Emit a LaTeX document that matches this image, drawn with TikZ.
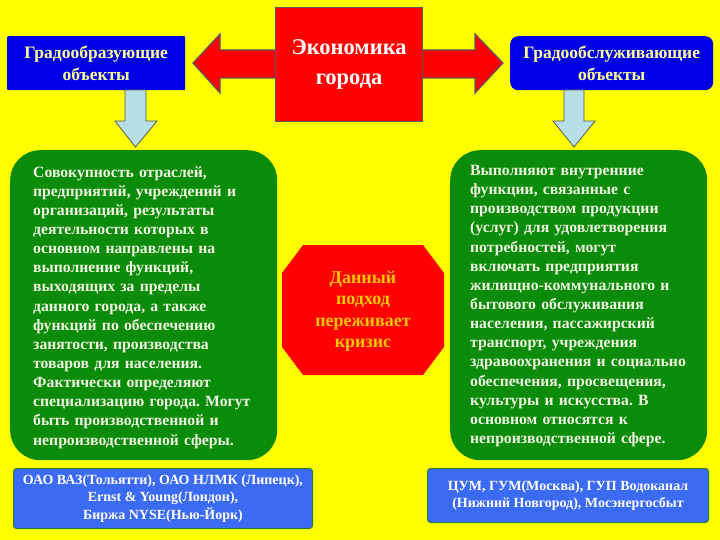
\documentclass[tikz,border=0pt]{standalone}
\usepackage{fontspec}
\setmainfont{Liberation Serif}
\frenchspacing
\definecolor{bgyel}{HTML}{FFFF00}
\definecolor{redfill}{HTML}{FF0000}
\definecolor{edgegray}{HTML}{5A5A5A}
\definecolor{topblue}{HTML}{0000E6}
\definecolor{paleyel}{HTML}{FFFF99}
\definecolor{greenbox}{HTML}{0A8C0A}
\definecolor{greentext}{HTML}{F0F4E0}
\definecolor{lowblue}{HTML}{3B6BF5}
\definecolor{lowedge}{HTML}{2E7D32}
\definecolor{downfill}{HTML}{B8DEE6}
\definecolor{octtext}{HTML}{F5C400}
\tikzset{
  blockarrow/.style={fill=redfill,draw=edgegray,line width=1.2pt,line join=miter},
  downarrow/.style={fill=downfill,draw=edgegray,line width=0.8pt},
  topbox/.style={fill=topblue,draw=none,text=paleyel,font=\bfseries\fontsize{17.5}{22}\selectfont,align=center,inner sep=0pt},
  greenpanel/.style={fill=greenbox,draw=none,rounded corners=30pt,anchor=north west,inner sep=0pt},
  greentxt/.style={text=greentext,font=\bfseries\fontsize{15.7}{19.15}\selectfont,align=left,anchor=north west,inner sep=0pt,text width=250pt},
  lowbox/.style={fill=lowblue,draw=lowedge,line width=1pt,rounded corners=3pt,text=white,font=\bfseries\fontsize{14}{17.5}\selectfont,align=center,inner sep=0pt,anchor=north west}
}
\begin{document}
\begin{tikzpicture}[x=1pt,y=-1pt]
\useasboundingbox[fill=bgyel] (0,0) rectangle (720,540);
% double block arrow behind central box
\draw[blockarrow] (193,63) -- (220,34) -- (220,50) -- (475,50) -- (475,34) -- (503,63) -- (475,93) -- (475,78) -- (220,78) -- (220,93) -- cycle;
% central box
\node[fill=redfill,draw=edgegray,line width=1.2pt,minimum width=147pt,minimum height=114pt,anchor=north west,text=white,font=\bfseries\fontsize{22.5}{30}\selectfont,align=center,inner sep=0pt] (eco) at (275,7) {Экономика\\города};
% top blue boxes
\node[topbox,minimum width=178pt,minimum height=54pt,anchor=north west,rounded corners=1pt] (lb) at (7,36) {Градообразующие\\объекты};
\node[topbox,minimum width=203pt,minimum height=54pt,anchor=north west,rounded corners=8pt] (rb) at (510,36) {Градообслуживающие\\объекты};
% down arrows
\draw[downarrow] (125,90) -- (146,90) -- (146,121) -- (157,121) -- (135.5,147) -- (115,121) -- (125,121) -- cycle;
\draw[downarrow] (564,90) -- (584,90) -- (584,121) -- (595,121) -- (574,147) -- (553,121) -- (564,121) -- cycle;
% green panels
\node[greenpanel,minimum width=267pt,minimum height=310pt] (lg) at (10,150) {};
\node[greentxt] (lgt) at (33,166) {Совокупность отраслей,\\
предприятий, учреждений и\\
организаций, результаты\\
деятельности которых в\\
основном направлены на\\
выполнение функций,\\
выходящих за пределы\\
данного города, а также\\
функций по обеспечению\\
занятости, производства\\
товаров для населения.\\
Фактически определяют\\
специализацию города. Могут\\
быть производственной и\\
непроизводственной сферы.};
\node[greenpanel,minimum width=257pt,minimum height=310pt] (rg) at (450,150) {};
\node[greentxt] (rgt) at (470,165) {Выполняют внутренние\\
функции, связанные с\\
производством продукции\\
(услуг) для удовлетворения\\
потребностей, могут\\
включать предприятия\\
жилищно-коммунального и\\
бытового обслуживания\\
населения, пассажирский\\
транспорт, учреждения\\
здравоохранения и социально\\
обеспечения, просвещения,\\
культуры и искусства. В\\
основном относятся к\\
непроизводственной сфере.};
% octagon
\fill[redfill] (303,245) -- (423,245) -- (444,273) -- (444,347) -- (423,375) -- (303,375) -- (282,347) -- (282,273) -- cycle;
\node[text=octtext,font=\bfseries\fontsize{18}{21.5}\selectfont,align=center,inner sep=0pt] (oct) at (363,311) {Данный\\подход\\переживает\\кризис};
% bottom boxes
\node[lowbox,minimum width=299pt,minimum height=60pt] (lx) at (13,468) {ОАО ВАЗ(Тольятти), ОАО НЛМК (Липецк),\\Ernst \& Young(Лондон),\\Биржа NYSE(Нью-Йорк)};
\node[lowbox,minimum width=281pt,minimum height=54pt] (rx) at (427,468) {ЦУМ, ГУМ(Москва), ГУП Водоканал\\(Нижний Новгород), Мосэнергосбыт};
\end{tikzpicture}
\end{document}
